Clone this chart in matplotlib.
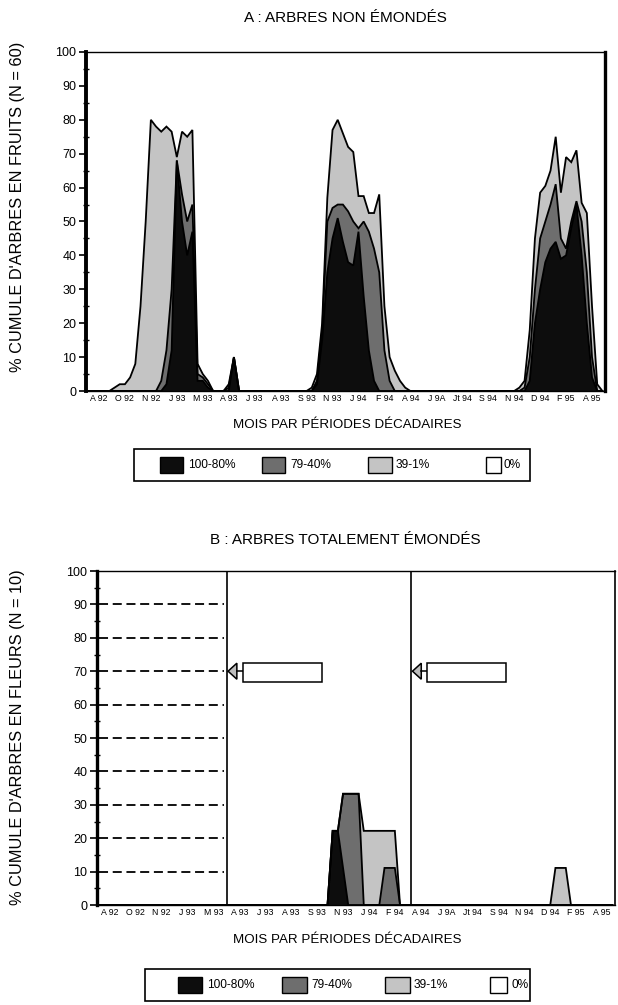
import numpy as np
import matplotlib
matplotlib.use("Agg")
import matplotlib.pyplot as plt
from matplotlib.patches import Rectangle, Polygon

plt.rcParams['font.family'] = ['Liberation Sans', 'DejaVu Sans']

# ---- decade axis (10-day periods) ----
N_DEC = 100
month_labels = ["A 92", "O 92", "N 92", "J 93", "M 93", "A 93", "J 93", "A 93", "S 93", "N 93",
                "J 94", "F 94", "A 94", "J 9A", "Jt 94", "S 94", "N 94", "D 94", "F 95", "A 95"]

classes = ["100-80%", "79-40%", "39-1%", "0%"]


def series(points):
    out = [0.0] * N_DEC
    for k, v in points.items():
        out[k] = v
    return out


# ---- A : fruiting, unpruned trees (cumulative %, N = 60) ----
fruit_total = series({5: 1, 6: 2, 7: 2, 8: 4, 9: 8, 10: 25, 11: 50, 12: 80, 13: 78, 14: 76.5,
                      15: 78, 16: 76.5, 17: 69, 18: 76.5, 19: 75, 20: 77, 21: 8, 22: 5, 23: 3,
                      27: 2, 28: 10,
                      43: 1, 44: 5, 45: 20, 46: 57, 47: 77, 48: 80, 49: 76, 50: 72, 51: 70.5,
                      52: 57.5, 53: 57.5, 54: 52.5, 55: 52.5, 56: 58, 57: 25, 58: 10, 59: 6,
                      60: 3, 61: 1,
                      83: 1, 84: 3, 85: 18, 86: 45, 87: 58.5, 88: 60.5, 89: 65, 90: 75,
                      91: 58.5, 92: 69, 93: 67.5, 94: 71, 95: 55.5, 96: 52.5, 97: 25, 98: 2})

fruit_ge40 = series({14: 3, 15: 12, 16: 30, 17: 68, 18: 58, 19: 50, 20: 55, 21: 5, 22: 4, 23: 2,
                     27: 1, 28: 10,
                     44: 3, 45: 18, 46: 50, 47: 54, 48: 55, 49: 55, 50: 53, 51: 50, 52: 48,
                     53: 50, 54: 47, 55: 42, 56: 35, 57: 12, 58: 3,
                     84: 1, 85: 10, 86: 30, 87: 45, 88: 50, 89: 55, 90: 61, 91: 45, 92: 42,
                     93: 50, 94: 56, 95: 50, 96: 35, 97: 10})

fruit_ge80 = series({15: 2, 16: 12, 17: 68, 18: 50, 19: 40, 20: 47, 21: 3, 22: 3, 23: 1,
                     28: 10,
                     44: 2, 45: 15, 46: 35, 47: 45, 48: 51, 49: 44, 50: 38, 51: 37, 52: 47,
                     53: 28, 54: 12, 55: 3,
                     85: 3, 86: 20, 87: 30, 88: 38, 89: 42, 90: 44, 91: 39, 92: 40, 93: 48,
                     94: 55, 95: 40, 96: 20, 97: 4})

# ---- B : flowering, fully pruned trees (cumulative %, N = 10) ----
flower_total = series({45: 22.2, 46: 22.2, 47: 33.3, 48: 33.3, 49: 33.3, 50: 33.3,
                       51: 22.2, 52: 22.2, 53: 22.2, 54: 22.2, 55: 22.2, 56: 22.2, 57: 22.2,
                       88: 11.1, 89: 11.1, 90: 11.1})
flower_ge40 = series({45: 22.2, 46: 22.2, 47: 33.3, 48: 33.3, 49: 33.3, 50: 33.3,
                      55: 11.1, 56: 11.1, 57: 11.1})
flower_ge80 = series({45: 22.2, 46: 22.2, 47: 11.1})

pruning_marks = [25.0, 60.6]

# ---- styling ----
C_BLACK = "#0d0d0d"
C_MID = "#6e6e6e"
C_LIGHT = "#c4c4c4"
SWATCH_COLORS = [C_BLACK, C_MID, C_LIGHT, "white"]

W, H = 618, 1005
fig = plt.figure(figsize=(W / 100, H / 100), dpi=100)


def rect(l, t, r, b):
    return [l / W, 1 - b / H, (r - l) / W, (b - t) / H]


def draw_layers(ax, total, ge40, ge80):
    x = np.arange(N_DEC) + 0.5
    for vals, col in ((total, C_LIGHT), (ge40, C_MID), (ge80, C_BLACK)):
        v = np.asarray(vals, float)
        ax.fill_between(x, 0, v, facecolor=col, edgecolor="none", lw=0, zorder=2)
        ax.plot(x, v, color="black", lw=1.3, zorder=3, solid_joinstyle="miter")


def style_axes(ax, lw_left, lw_right):
    ax.set_xlim(0, N_DEC)
    ax.set_ylim(0, 100)
    ax.set_yticks(np.arange(0, 101, 10))
    ax.set_yticks(np.arange(5, 100, 10), minor=True)
    ax.tick_params(axis="y", which="major", direction="out", length=5, width=1.2,
                   labelsize=9, pad=2)
    ax.tick_params(axis="y", which="minor", direction="inout", length=4, width=1.0)
    ax.set_xticks(np.arange(2.5, N_DEC, 5))
    ax.set_xticklabels(month_labels)
    ax.tick_params(axis="x", which="major", length=0, labelsize=6.3, pad=2)
    ax.spines["left"].set_linewidth(lw_left)
    ax.spines["right"].set_linewidth(lw_right)
    ax.spines["top"].set_linewidth(1.0)
    ax.spines["bottom"].set_linewidth(1.0)


def draw_legend(box, swatch_x, swatch_w, text_x):
    l, t, r, b = box
    fig.add_artist(Rectangle((l / W, 1 - b / H), (r - l) / W, (b - t) / H,
                             transform=fig.transFigure, facecolor="white",
                             edgecolor="black", lw=1.2))
    yc = (t + b) / 2
    sh = 16
    for sx, sw, tx, col, lab in zip(swatch_x, swatch_w, text_x, SWATCH_COLORS, classes):
        fig.add_artist(Rectangle((sx / W, 1 - (yc + sh / 2) / H), sw / W, sh / H,
                                 transform=fig.transFigure, facecolor=col,
                                 edgecolor="black", lw=1.0))
        fig.text(tx / W, 1 - yc / H, lab, ha="left", va="center", fontsize=8.6)


# ---- panel A ----
axA = fig.add_axes(rect(86, 52, 605, 391))
draw_layers(axA, fruit_total, fruit_ge40, fruit_ge80)
style_axes(axA, 2.8, 2.4)

# ---- panel B ----
axB = fig.add_axes(rect(97, 571, 615, 905))
draw_layers(axB, flower_total, flower_ge40, flower_ge80)
style_axes(axB, 2.4, 1.2)
for yv in range(10, 100, 10):
    axB.plot([0.4, pruning_marks[0] - 0.5], [yv, yv], color="black", lw=1.3,
             dashes=(5, 2.6), zorder=1)
for xm in pruning_marks:
    axB.axvline(xm, color="black", lw=1.2, zorder=4)
    # arrow pointing at the pruning date
    axB.add_patch(Polygon([[xm + 0.3, 70], [xm + 2.0, 72.4], [xm + 2.0, 67.6]], closed=True,
                          facecolor="#bdbdbd", edgecolor="black", lw=1.1, zorder=5))
    axB.plot([xm + 2.0, xm + 3.1], [70, 70], color="black", lw=1.1, zorder=5)
    axB.add_patch(Rectangle((xm + 3.1, 66.8), 15.3, 5.8, facecolor="white",
                            edgecolor="black", lw=1.1, zorder=5))

# ---- text ----
fig.text(345 / W, 1 - 18 / H, "A : ARBRES NON ÉMONDÉS", ha="center", va="center", fontsize=11)
fig.text(345 / W, 1 - 540 / H, "B : ARBRES TOTALEMENT ÉMONDÉS", ha="center", va="center",
         fontsize=11)
fig.text(18 / W, 1 - 207 / H, "% CUMULE D'ARBRES EN FRUITS (N = 60)", rotation=90,
         ha="center", va="center", fontsize=11.8)
fig.text(18 / W, 1 - 737 / H, "% CUMULE D'ARBRES EN FLEURS (N = 10)", rotation=90,
         ha="center", va="center", fontsize=11.8)
fig.text(347 / W, 1 - 425 / H, "MOIS PAR PÉRIODES DÉCADAIRES", ha="center", va="center",
         fontsize=9.6)
fig.text(347 / W, 1 - 940 / H, "MOIS PAR PÉRIODES DÉCADAIRES", ha="center", va="center",
         fontsize=9.6)

# ---- legends ----
draw_legend((134, 449, 530, 481), [160, 262, 368, 486], [23, 23, 24, 15], [188, 290, 396, 504])
draw_legend((145, 969, 530, 1001), [178, 282, 385, 490], [24, 25, 25, 17], [207, 311, 414, 511])

fig.savefig("out.png", dpi=100, facecolor="white")
